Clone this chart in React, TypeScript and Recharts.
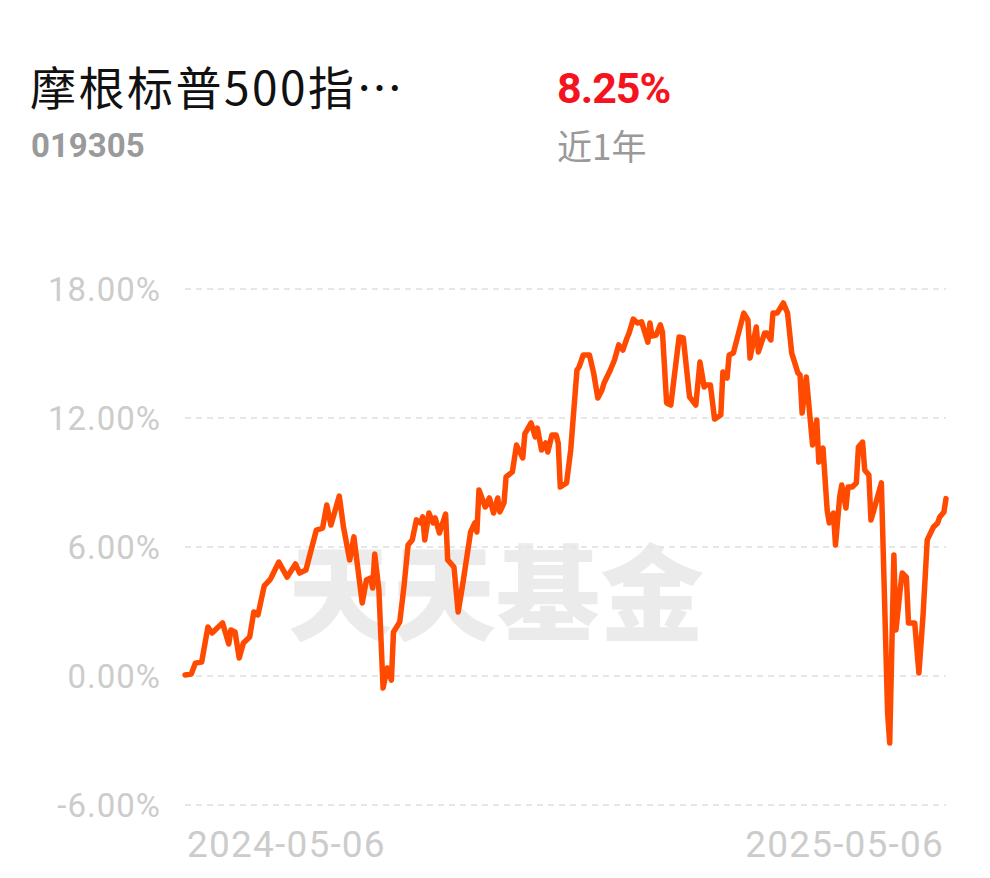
import React from 'react';
import { LineChart, Line, XAxis, YAxis, CartesianGrid } from 'recharts';

// 天数偏移（自 2024-05-06 起）与近1年累计收益（%）
const days = [
  0, 3, 5, 8, 11, 13, 18, 21, 22, 24, 26, 28, 31, 33, 35, 38, 41, 45, 49, 53,
  55, 58, 63, 66, 68, 70, 74, 76, 79, 81, 85, 87, 89, 90, 91, 93, 95, 97, 99, 100,
  103, 105, 107, 109, 111, 113, 114, 115, 117, 119, 120, 122, 125, 126, 129, 131, 133, 137, 139, 140,
  141, 144, 146, 148, 150, 151, 153, 154, 157, 159, 162, 163, 166, 168, 169, 171, 173, 174, 176, 178,
  179, 180, 183, 185, 188, 189, 191, 194, 196, 198, 200, 201, 204, 206, 208, 210, 212, 213, 215, 217,
  219, 222, 223, 224, 226, 228, 229, 231, 233, 237, 239, 242, 245, 247, 249, 250, 252, 254, 257, 258,
  260, 261, 263, 268, 270, 271, 274, 275, 278, 279, 281, 282, 284, 287, 289, 291, 294, 295, 296, 298,
  301, 303, 304, 306, 308, 309, 311, 312, 314, 315, 317, 318, 320, 322, 323, 325, 326, 328, 329, 330,
  334, 337, 338, 340, 341, 343, 344, 346, 347, 350, 352, 354, 356, 359, 361, 362, 364, 365,
];

const returns = [
  0.05, 0.09, 0.6, 0.65, 2.28, 2.0, 2.47, 1.49, 2.14, 2.05, 0.84, 1.53, 1.81, 2.98, 2.84, 4.19, 4.51, 5.3, 4.6, 5.21,
  4.79, 4.93, 6.79, 6.88, 7.95, 7.02, 8.37, 6.93, 5.4, 6.47, 3.4, 4.47, 4.56, 4.09, 5.67, 4.0, -0.56, 0.37, -0.19, 2.05,
  2.51, 4.14, 6.09, 6.33, 7.26, 7.12, 7.4, 6.33, 7.58, 7.12, 7.35, 6.65, 7.53, 5.4, 5.07, 2.98, 4.14, 6.7, 7.12, 6.7,
  8.65, 7.86, 8.28, 7.58, 8.28, 7.63, 8.05, 9.26, 9.49, 10.74, 10.14, 11.26, 11.77, 11.12, 11.53, 10.51, 10.84, 10.42, 11.21, 11.21,
  10.84, 8.79, 8.98, 10.51, 14.23, 14.37, 14.93, 14.93, 14.09, 12.93, 13.3, 13.63, 14.23, 14.7, 15.4, 15.16, 15.72, 15.95, 16.6, 16.42,
  16.47, 15.53, 16.42, 15.81, 15.86, 16.33, 16.0, 12.7, 12.6, 15.77, 15.72, 12.98, 12.6, 14.6, 13.44, 13.53, 13.53, 11.95, 12.14, 14.14,
  13.86, 14.93, 15.02, 16.88, 16.56, 14.79, 16.23, 15.07, 15.95, 15.95, 15.63, 16.88, 16.88, 17.35, 16.88, 15.02, 14.09, 14.0, 12.23, 13.91,
  10.74, 11.91, 9.95, 10.6, 7.72, 7.12, 7.58, 6.09, 8.33, 8.88, 7.81, 8.79, 8.79, 8.98, 10.65, 10.88, 9.58, 9.35, 7.26, 7.58,
  8.98, -1.72, -3.12, 5.63, 2.14, 4.0, 4.79, 4.6, 2.47, 2.47, 0.14, 2.84, 6.33, 6.93, 7.12, 7.4, 7.63, 8.25,
];

const yTicks = [-6, 0, 6, 12, 18];
const xTicks = [0, 365];
const xLabels = ['2024-05-06', '2025-05-06'];

const data = days.map((d, i) => ({ day: d, value: returns[i] }));

const numFont = 'Roboto, "Noto Sans", sans-serif';

const YTick = (props: any) => {
  const { y, payload } = props;
  return (
    <text
      x={161}
      y={y + 12}
      textAnchor="end"
      fill="#cccccc"
      fontSize={33}
      fontFamily={numFont}
      style={{ letterSpacing: 1 }}
    >
      {payload.value.toFixed(2) + '%'}
    </text>
  );
};

const XTick = (props: any) => {
  const { x, payload, index } = props;
  const first = index === 0;
  return (
    <text
      x={first ? x + 2 : x - 2}
      y={857}
      textAnchor={first ? 'start' : 'end'}
      fill="#cccccc"
      fontSize={37}
      fontFamily={numFont}
      style={{ letterSpacing: 1.2 }}
    >
      {xLabels[xTicks.indexOf(payload.value)]}
    </text>
  );
};

export default function App() {
  return (
    <div
      style={{
        position: 'relative',
        width: 990,
        height: 878,
        margin: -8,
        background: '#fff',
        overflow: 'hidden',
        fontFamily: '"Noto Sans CJK SC", Roboto, sans-serif',
      }}
    >
      {/* 标题区 */}
      <div
        style={{
          position: 'absolute',
          left: 30,
          top: 57,
          fontSize: 46,
          color: '#111',
          lineHeight: '56px',
          letterSpacing: 2.5,
          whiteSpace: 'nowrap',
        }}
      >
        摩根标普500指…
      </div>
      <div
        style={{
          position: 'absolute',
          left: 31,
          top: 123,
          fontSize: 33,
          fontWeight: 700,
          color: '#9a9a9a',
          lineHeight: '46px',
          fontFamily: numFont,
        }}
      >
        019305
      </div>
      <div
        style={{
          position: 'absolute',
          left: 557,
          top: 62,
          fontSize: 43,
          fontWeight: 700,
          color: '#f5141e',
          lineHeight: '52px',
          letterSpacing: -1,
          fontFamily: numFont,
        }}
      >
        8.25%
      </div>
      <div style={{ position: 'absolute', left: 557, top: 121, fontSize: 35, color: '#9a9a9a', lineHeight: '48px' }}>
        近1年
      </div>

      {/* 水印 */}
      <div
        style={{
          position: 'absolute',
          left: 288,
          top: 528,
          fontSize: 104,
          fontWeight: 900,
          color: '#ebebeb',
          lineHeight: '120px',
          whiteSpace: 'nowrap',
        }}
      >
        天天基金
      </div>

      <div style={{ position: 'absolute', left: 0, top: 0 }}>
        <LineChart width={990} height={878} data={data} margin={{ top: 289, right: 44, bottom: 13, left: 0 }}>
          <CartesianGrid vertical={false} stroke="#e6e6e6" strokeWidth={2} strokeDasharray="6 5" />
          <XAxis
            dataKey="day"
            type="number"
            domain={[0, 365]}
            ticks={xTicks}
            axisLine={false}
            tickLine={false}
            height={60}
            tick={<XTick />}
          />
          <YAxis
            type="number"
            domain={[-6, 18]}
            ticks={yTicks}
            axisLine={false}
            tickLine={false}
            width={185}
            tick={<YTick />}
          />
          <Line
            type="linear"
            dataKey="value"
            stroke="#ff4a00"
            strokeWidth={5.5}
            strokeLinejoin="round"
            strokeLinecap="round"
            dot={false}
            isAnimationActive={false}
          />
        </LineChart>
      </div>
    </div>
  );
}
